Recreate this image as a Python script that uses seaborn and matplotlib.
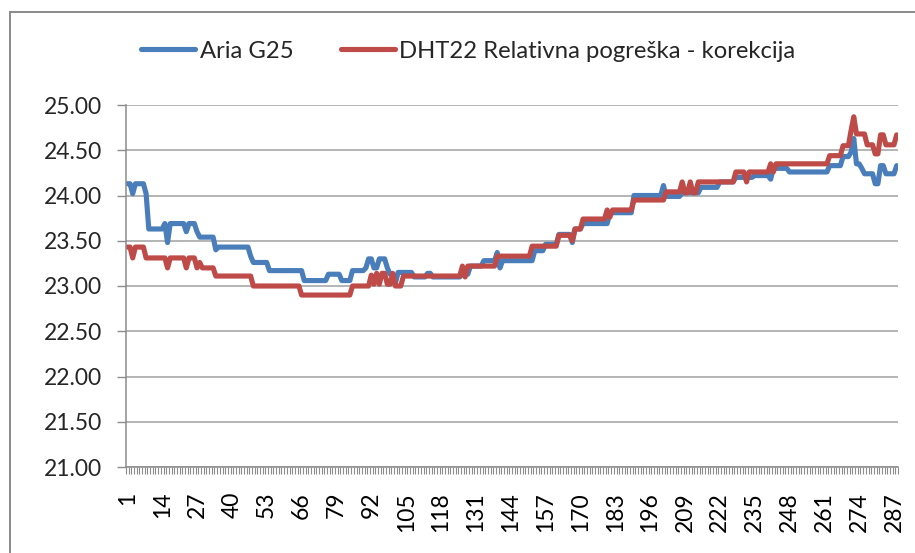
import numpy as np
import pandas as pd
import matplotlib
matplotlib.use("Agg")
import matplotlib.pyplot as plt
from matplotlib.patches import Rectangle
from matplotlib.ticker import FixedLocator, FormatStrFormatter
import seaborn as sns

# readings are stepwise, so keep them as runs: value and how many samples it lasts
aria_values = [24.13, 24.02, 24.13, 24.02, 23.63, 23.69, 23.48, 23.69, 23.60, 23.69,
               23.60, 23.54, 23.40, 23.43, 23.33, 23.26, 23.17, 23.06, 23.13, 23.06,
               23.17, 23.20, 23.30, 23.20, 23.30, 23.20, 23.13, 23.03, 23.15, 23.10,
               23.14, 23.10, 23.13, 23.22, 23.28, 23.37, 23.20, 23.28, 23.39, 23.46,
               23.57, 23.48, 23.63, 23.69, 23.81, 24.00, 24.11, 23.99, 24.03, 24.09,
               24.15, 24.20, 24.22, 24.18, 24.30, 24.26, 24.33, 24.43, 24.48, 24.63,
               24.35, 24.30, 24.24, 24.13, 24.33, 24.24, 24.33]
aria_counts = [2, 1, 4, 1, 6, 1, 1, 6, 1, 3,
               1, 6, 1, 12, 1, 6, 13, 9, 5, 4,
               5, 1, 2, 2, 3, 1, 2, 1, 6, 5,
               2, 11, 3, 5, 5, 1, 1, 12, 4, 5,
               5, 1, 3, 10, 9, 11, 1, 6, 7, 7,
               6, 7, 6, 1, 6, 15, 5, 3, 1, 1,
               2, 1, 4, 2, 2, 4, 1]

dht_values = [23.43, 23.31, 23.43, 23.31, 23.20, 23.31, 23.20, 23.31, 23.20, 23.26,
              23.20, 23.11, 23.00, 22.90, 23.00, 23.12, 23.02, 23.14, 23.02, 23.14,
              23.02, 23.14, 23.00, 23.11, 23.22, 23.10, 23.22, 23.33, 23.44, 23.56,
              23.50, 23.63, 23.74, 23.84, 23.76, 23.84, 23.95, 24.04, 24.15, 24.03,
              24.15, 24.03, 24.15, 24.26, 24.15, 24.26, 24.35, 24.26, 24.35, 24.44,
              24.55, 24.72, 24.87, 24.68, 24.56, 24.46, 24.67, 24.56, 24.67]
dht_counts = [2, 1, 4, 8, 1, 6, 1, 3, 1, 1,
              5, 14, 18, 19, 7, 1, 1, 1, 1, 2,
              2, 1, 3, 22, 1, 1, 11, 13, 10, 5,
              1, 3, 9, 1, 1, 8, 12, 6, 1, 2,
              1, 2, 14, 4, 1, 8, 1, 1, 20, 5,
              3, 1, 1, 4, 3, 2, 2, 4, 1]

series_names = ["Aria G25", "DHT22 Relativna pogreška - korekcija"]
x_tick_labels = list(range(1, 289, 13))
y_ticks = [21.0, 21.5, 22.0, 22.5, 23.0, 23.5, 24.0, 24.5, 25.0]

aria = np.repeat(aria_values, aria_counts)
dht = np.repeat(dht_values, dht_counts)
sample = np.arange(1, len(aria) + 1)

df = pd.DataFrame({"sample": sample, series_names[0]: aria, series_names[1]: dht})
long_df = df.melt(id_vars="sample", var_name="series", value_name="temp")

sns.set_style("white")
plt.rcParams["font.family"] = ["Lato", "DejaVu Sans"]

W, H = 915, 553
fig = plt.figure(figsize=(W / 100, H / 100), dpi=100)
ax = fig.add_axes([126 / W, 1 - 467 / H, (898 - 126) / W, (467 - 105) / H])

blue = "#4A7EBB"
red = "#BE4B48"
sns.lineplot(data=long_df, x="sample", y="temp", hue="series", hue_order=series_names,
             palette=[blue, red], linewidth=3.7, ax=ax, legend=False)
for ln in ax.lines:
    ln.set_solid_joinstyle("round")
    ln.set_solid_capstyle("round")

grey = "#8c8c8c"
ax.set_xlim(0.5, len(sample) + 0.5)
ax.set_ylim(21, 25)
ax.yaxis.set_major_locator(FixedLocator(y_ticks))
ax.yaxis.set_major_formatter(FormatStrFormatter("%.2f"))
ax.grid(axis="y", color="#a0a0a0", linewidth=1.1)
ax.set_axisbelow(True)

ax.set_xticks(x_tick_labels)
ax.set_xticklabels([str(v) for v in x_tick_labels], rotation=90)
ax.set_xticks(np.arange(0.5, len(sample) + 1, 1.0), minor=True)
ax.tick_params(axis="x", which="major", bottom=True, length=0, pad=18, labelsize=16.5,
               colors="black")
ax.tick_params(axis="x", which="minor", bottom=True, length=5.2, width=0.8, color=grey,
               direction="out")
ax.tick_params(axis="y", which="major", left=True, length=6.5, width=1, color=grey, pad=11,
               labelsize=16.5)
ax.set_xlabel("")
ax.set_ylabel("")

for side in ["top", "right"]:
    ax.spines[side].set_visible(False)
for side in ["left", "bottom"]:
    ax.spines[side].set_color(grey)
    ax.spines[side].set_linewidth(1.1)

# chart area border (only left and top are inside the picture)
fig.add_artist(Rectangle((10 / W, -0.1), 2, 1.1 - 12 / H, transform=fig.transFigure,
                         fill=False, edgecolor="#8a8a8a", linewidth=1.4))

fig.legend(ax.lines[:2], series_names, loc="center left",
           bbox_to_anchor=(141 / W, 1 - 51 / H), ncol=2, frameon=False,
           fontsize=17.2, handlelength=2.25, handletextpad=0.2, columnspacing=2.0,
           borderpad=0, borderaxespad=0)

fig.savefig("out.png", dpi=100)
